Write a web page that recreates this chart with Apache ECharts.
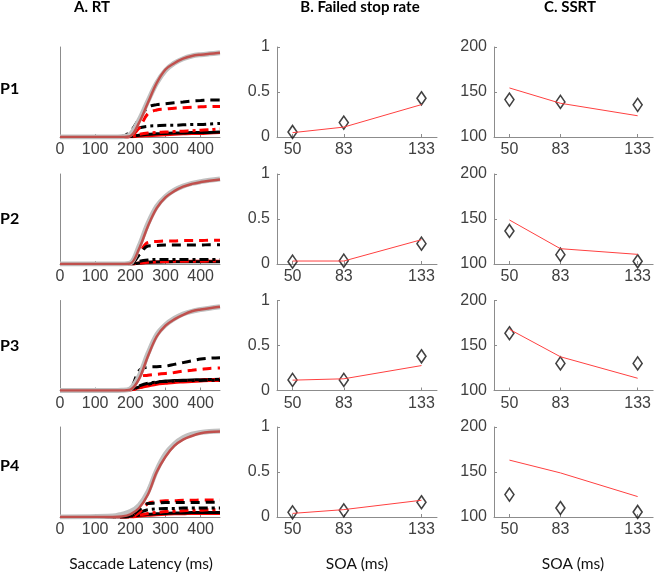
<!DOCTYPE html>
<html>
<head>
<meta charset="utf-8">
<script src="https://cdn.jsdelivr.net/npm/echarts@6/dist/echarts.min.js"></script>
<style>
  html, body { margin: 0; padding: 0; background: #fff; }
  #chart { width: 654px; height: 578px; }
</style>
</head>
<body>
<div id="chart"></div>
<script>
// sample points of latency (ms) for the RT curves
var latency = [0, 150, 175, 200, 225, 250, 275, 300, 325, 350, 375, 400, 425, 455];
var soa = [50, 83, 133];
var participants = ['P1', 'P2', 'P3', 'P4'];

// RT cumulative curves per participant
var rtGray = [
  [0, 0, 0.002, 0.03, 0.19, 0.4, 0.6, 0.74, 0.82, 0.87, 0.9, 0.915, 0.925, 0.935],
  [0, 0, 0, 0.01, 0.2, 0.45, 0.64, 0.75, 0.82, 0.865, 0.895, 0.915, 0.93, 0.945],
  [0, 0, 0.002, 0.02, 0.16, 0.41, 0.62, 0.73, 0.8, 0.85, 0.88, 0.9, 0.915, 0.93],
  [0, 0.01, 0.03, 0.06, 0.13, 0.28, 0.52, 0.7, 0.81, 0.88, 0.92, 0.94, 0.95, 0.955]
];
var rtModel = [
  [0, 0, 0, 0.01, 0.16, 0.38, 0.6, 0.75, 0.82, 0.87, 0.9, 0.915, 0.925, 0.935],
  [0, 0, 0, 0.005, 0.17, 0.42, 0.62, 0.74, 0.81, 0.86, 0.89, 0.91, 0.925, 0.94],
  [0, 0, 0, 0.01, 0.13, 0.38, 0.6, 0.72, 0.79, 0.84, 0.88, 0.9, 0.915, 0.93],
  [0, 0, 0.005, 0.03, 0.1, 0.25, 0.5, 0.67, 0.79, 0.86, 0.9, 0.93, 0.945, 0.95]
];
// failed stop curves, observed (black) and model (red), SOA 133 / 83 / 50
var blackDash = [
  [0, 0, 0.005, 0.06, 0.2, 0.33, 0.36, 0.37, 0.38, 0.39, 0.4, 0.405, 0.41, 0.41],
  [0, 0, 0, 0, 0.1, 0.2, 0.205, 0.21, 0.21, 0.21, 0.21, 0.21, 0.215, 0.215],
  [0, 0, 0, 0.02, 0.22, 0.26, 0.265, 0.27, 0.29, 0.31, 0.33, 0.35, 0.36, 0.365],
  [0, 0, 0, 0.01, 0.08, 0.15, 0.155, 0.16, 0.16, 0.16, 0.16, 0.16, 0.165, 0.165]
];
var redDash = [
  [0, 0, 0, 0.01, 0.1, 0.26, 0.3, 0.31, 0.32, 0.325, 0.33, 0.335, 0.34, 0.34],
  [0, 0, 0, 0, 0.12, 0.24, 0.25, 0.255, 0.255, 0.26, 0.26, 0.26, 0.265, 0.265],
  [0, 0, 0, 0.01, 0.15, 0.17, 0.18, 0.19, 0.2, 0.215, 0.225, 0.235, 0.245, 0.25],
  [0, 0, 0, 0, 0.05, 0.15, 0.17, 0.18, 0.18, 0.185, 0.185, 0.19, 0.19, 0.19]
];
var blackDashDot = [
  [0, 0, 0, 0.03, 0.1, 0.12, 0.125, 0.13, 0.13, 0.135, 0.14, 0.14, 0.145, 0.15],
  [0, 0, 0, 0, 0.03, 0.045, 0.05, 0.05, 0.05, 0.05, 0.05, 0.05, 0.05, 0.05],
  [0, 0, 0, 0.01, 0.05, 0.08, 0.095, 0.1, 0.105, 0.11, 0.11, 0.112, 0.115, 0.115],
  [0, 0, 0, 0.01, 0.05, 0.08, 0.09, 0.095, 0.095, 0.1, 0.1, 0.1, 0.1, 0.1]
];
var redDashDot = [
  [0, 0, 0, 0.005, 0.03, 0.045, 0.05, 0.055, 0.06, 0.065, 0.07, 0.075, 0.08, 0.09],
  [0, 0, 0, 0, 0.01, 0.02, 0.025, 0.028, 0.03, 0.03, 0.03, 0.03, 0.032, 0.032],
  [0, 0, 0, 0.005, 0.03, 0.06, 0.08, 0.09, 0.1, 0.105, 0.11, 0.115, 0.12, 0.125],
  [0, 0, 0, 0, 0.02, 0.04, 0.05, 0.06, 0.065, 0.07, 0.075, 0.075, 0.08, 0.08]
];
var blackSolid = [
  [0, 0, 0, 0.005, 0.02, 0.03, 0.035, 0.04, 0.045, 0.045, 0.05, 0.05, 0.05, 0.055],
  [0, 0, 0, 0, 0.01, 0.02, 0.022, 0.024, 0.025, 0.025, 0.025, 0.025, 0.025, 0.025],
  [0, 0, 0, 0.01, 0.04, 0.07, 0.09, 0.105, 0.11, 0.115, 0.118, 0.12, 0.122, 0.125],
  [0, 0, 0, 0.01, 0.02, 0.03, 0.035, 0.04, 0.045, 0.045, 0.05, 0.05, 0.05, 0.05]
];
var redSolid = [
  [0, 0, 0, 0.002, 0.01, 0.015, 0.02, 0.025, 0.03, 0.035, 0.04, 0.04, 0.045, 0.05],
  [0, 0, 0, 0, 0.01, 0.018, 0.022, 0.025, 0.027, 0.028, 0.03, 0.03, 0.03, 0.03],
  [0, 0, 0, 0.005, 0.03, 0.05, 0.07, 0.08, 0.09, 0.095, 0.1, 0.105, 0.11, 0.11],
  [0, 0, 0, 0, 0.01, 0.02, 0.025, 0.03, 0.035, 0.035, 0.04, 0.04, 0.04, 0.04]
];

// failed stop rate
var stopObs = [[0.056, 0.16, 0.43], [0.026, 0.037, 0.226], [0.118, 0.118, 0.38], [0.052, 0.074, 0.164]];
var stopModel = [[0.048, 0.11, 0.36], [0.033, 0.033, 0.27], [0.115, 0.13, 0.277], [0.04, 0.082, 0.186]];
// SSRT
var ssrtObs = [[141.6, 139, 135.7], [136.7, 110.4, 103], [163.6, 130.1, 130.1], [124.9, 110, 105.6]];
var ssrtModel = [[154.5, 137.5, 123.6], [148.9, 117, 110.7], [168, 137.5, 113.6], [163.2, 149, 122.7]];

var rowTop = [47, 174, 300.5, 427];
var rowH = 90;
var colLeft = [60, 277, 494];
var colW = 160;

var axisCol = '#8c8c8c';
var labelCol = '#404040';
var tickFont = 'Liberation Sans';

function pairs(xs, ys) {
  return xs.map(function (x, i) { return [x, ys[i]]; });
}

var grids = [], xAxes = [], yAxes = [], series = [];

participants.forEach(function (p, r) {
  for (var c = 0; c < 3; c++) {
    var gi = grids.length;
    grids.push({ left: colLeft[c], top: rowTop[r], width: colW, height: rowH });
    var xa = {
      gridIndex: gi, type: 'value',
      axisLine: { lineStyle: { color: axisCol, width: 1 } },
      axisTick: { show: true, inside: true, length: 3, lineStyle: { color: axisCol } },
      splitLine: { show: false },
      axisLabel: { color: labelCol, fontSize: 16, fontFamily: tickFont, margin: 5 }
    };
    var ya = {
      gridIndex: gi, type: 'value',
      axisLine: { show: true, lineStyle: { color: axisCol, width: 1 } },
      axisTick: { show: true, inside: true, length: 3, lineStyle: { color: axisCol } },
      splitLine: { show: false },
      axisLabel: { color: labelCol, fontSize: 16, fontFamily: tickFont, margin: 7 }
    };
    if (c === 0) {
      xa.min = 0; xa.max = 455;
      xa.axisLabel.customValues = [0, 100, 200, 300, 400];
      xa.axisTick.customValues = [0, 100, 200, 300, 400];
      ya.min = 0; ya.max = 1;
      ya.axisLabel.show = false;
      ya.axisTick.show = false;
    } else {
      xa.min = 40; xa.max = 143;
      xa.axisLabel.customValues = soa;
      xa.axisTick.customValues = soa;
      if (c === 1) { ya.min = 0; ya.max = 1; ya.interval = 0.5; }
      else { ya.min = 100; ya.max = 200; ya.interval = 50; }
    }
    xAxes.push(xa);
    yAxes.push(ya);
  }
  var gA = r * 3, gB = r * 3 + 1, gC = r * 3 + 2;
  function rtLine(data, color, width, type) {
    series.push({
      type: 'line', xAxisIndex: gA, yAxisIndex: gA, data: pairs(latency, data),
      smooth: 0.35, showSymbol: false, silent: true,
      lineStyle: { color: color, width: width, type: type }
    });
  }
  rtLine(redSolid[r], '#ff0000', 3, 'solid');
  rtLine(blackSolid[r], '#000000', 3, 'solid');
  rtLine(redDashDot[r], '#ff0000', 3, [9, 4, 3, 4]);
  rtLine(blackDashDot[r], '#000000', 3, [9, 4, 3, 4]);
  rtLine(redDash[r], '#ff0000', 3, [9, 6]);
  rtLine(blackDash[r], '#000000', 3, [9, 6]);
  rtLine(rtGray[r], '#c0c0c0', 5, 'solid');
  rtLine(rtModel[r], '#c0504d', 2.5, 'solid');

  series.push({
    type: 'line', xAxisIndex: gB, yAxisIndex: gB, data: pairs(soa, stopModel[r]),
    showSymbol: false, silent: true, lineStyle: { color: '#ff4040', width: 1 }
  });
  series.push({
    type: 'scatter', xAxisIndex: gB, yAxisIndex: gB, data: pairs(soa, stopObs[r]),
    symbol: 'diamond', symbolSize: [9, 13], silent: true,
    itemStyle: { color: 'rgba(255,255,255,0)', borderColor: '#111', borderWidth: 1.6 }
  });
  series.push({
    type: 'line', xAxisIndex: gC, yAxisIndex: gC, data: pairs(soa, ssrtModel[r]),
    showSymbol: false, silent: true, lineStyle: { color: '#ff4040', width: 1 }
  });
  series.push({
    type: 'scatter', xAxisIndex: gC, yAxisIndex: gC, data: pairs(soa, ssrtObs[r]),
    symbol: 'diamond', symbolSize: [9, 13], silent: true,
    itemStyle: { color: 'rgba(255,255,255,0)', borderColor: '#111', borderWidth: 1.6 }
  });
});

var headFont = 'Lato';
var titles = [
  { text: 'A. RT', left: 92, top: 0, textAlign: 'center', padding: 0,
    textStyle: { fontFamily: headFont, fontWeight: 'bold', fontSize: 15, color: '#000' } },
  { text: 'B. Failed stop rate', left: 360, top: 0, textAlign: 'center', padding: 0,
    textStyle: { fontFamily: headFont, fontWeight: 'bold', fontSize: 15, color: '#000' } },
  { text: 'C. SSRT', left: 570, top: 0, textAlign: 'center', padding: 0,
    textStyle: { fontFamily: headFont, fontWeight: 'bold', fontSize: 15, color: '#000' } }
];
var pLabelY = [81, 211, 338, 458];
participants.forEach(function (p, r) {
  titles.push({ text: p, left: 0, top: pLabelY[r], padding: 0,
    textStyle: { fontFamily: headFont, fontWeight: 'bold', fontSize: 16, color: '#000' } });
});
var bottomLabels = [['Saccade Latency (ms)', 141], ['SOA (ms)', 357], ['SOA (ms)', 573]];
bottomLabels.forEach(function (b) {
  titles.push({ text: b[0], left: b[1], top: 556, textAlign: 'center', padding: 0,
    textStyle: { fontFamily: headFont, fontWeight: 'normal', fontSize: 15.5, color: '#111' } });
});

var chart = echarts.init(document.getElementById('chart'));
chart.setOption({
  animation: false,
  title: titles,
  grid: grids,
  xAxis: xAxes,
  yAxis: yAxes,
  series: series
});
</script>
</body>
</html>
